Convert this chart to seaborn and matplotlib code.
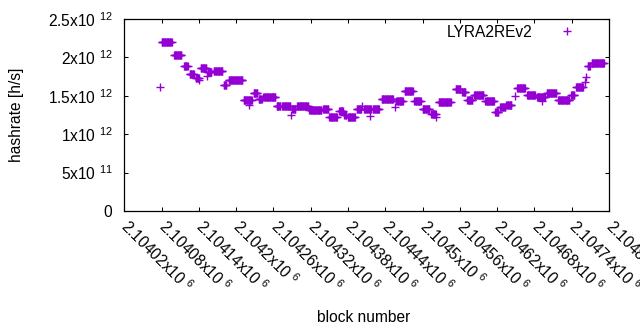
import numpy as np
import pandas as pd
import matplotlib
matplotlib.use("Agg")
import matplotlib.pyplot as plt
import seaborn as sns

# ---- data ----
# runs of consecutive blocks sharing the same estimated hashrate (units: 1e12 h/s)
run_start = [2104077, 2104080, 2104100, 2104116, 2104125, 2104135, 2104140, 2104143, 2104153,
             2104154, 2104164, 2104180, 2104188, 2104212, 2104221, 2104228, 2104236, 2104244,
             2104265, 2104274, 2104289, 2104290, 2104298, 2104318, 2104340, 2104350, 2104366,
             2104374, 2104380, 2104394, 2104402, 2104406, 2104415, 2104420, 2104434, 2104455,
             2104458, 2104471, 2104487, 2104500, 2104514, 2104521, 2104526, 2104553, 2104564,
             2104572, 2104583, 2104601, 2104617, 2104625, 2104635, 2104649, 2104652, 2104668,
             2104684, 2104692, 2104700, 2104718, 2104739, 2104747, 2104761, 2104763, 2104766,
             2104772]
run_end = [2104077, 2104096, 2104112, 2104122, 2104132, 2104140, 2104140, 2104152, 2104153,
           2104160, 2104178, 2104184, 2104210, 2104225, 2104221, 2104234, 2104241, 2104263,
           2104271, 2104287, 2104289, 2104295, 2104316, 2104337, 2104348, 2104362, 2104372,
           2104377, 2104391, 2104401, 2104402, 2104417, 2104415, 2104430, 2104452, 2104455,
           2104468, 2104484, 2104497, 2104511, 2104521, 2104521, 2104545, 2104561, 2104569,
           2104580, 2104598, 2104615, 2104622, 2104633, 2104643, 2104649, 2104665, 2104681,
           2104697, 2104692, 2104715, 2104736, 2104744, 2104758, 2104761, 2104763, 2104769,
           2104792]
run_hashrate_e12 = [1.611, 2.196, 2.027, 1.884, 1.780, 1.736, 1.700, 1.858, 1.758,
                    1.810, 1.823, 1.637, 1.702, 1.441, 1.380, 1.532, 1.462, 1.484,
                    1.371, 1.363, 1.250, 1.332, 1.367, 1.311, 1.324, 1.228, 1.298,
                    1.254, 1.220, 1.324, 1.367, 1.324, 1.241, 1.324, 1.456, 1.350,
                    1.428, 1.558, 1.428, 1.324, 1.263, 1.224, 1.415, 1.588, 1.545,
                    1.449, 1.506, 1.428, 1.285, 1.350, 1.380, 1.497, 1.598, 1.506,
                    1.480, 1.436, 1.532, 1.441, 1.510, 1.614, 1.683, 1.749, 1.888,
                    1.931]
series_name = "LYRA2REv2"

x_ticks = [2104020, 2104080, 2104140, 2104200, 2104260, 2104320, 2104380,
           2104440, 2104500, 2104560, 2104620, 2104680, 2104740, 2104800]
x_tick_labels = ["2.10402x10 $^{6}$", "2.10408x10 $^{6}$", "2.10414x10 $^{6}$",
                 "2.1042x10 $^{6}$", "2.10426x10 $^{6}$", "2.10432x10 $^{6}$",
                 "2.10438x10 $^{6}$", "2.10444x10 $^{6}$", "2.1045x10 $^{6}$",
                 "2.10456x10 $^{6}$", "2.10462x10 $^{6}$", "2.10468x10 $^{6}$",
                 "2.10474x10 $^{6}$", "2.1048x10 $^{6}$"]
y_ticks = [0, 5e11, 1e12, 1.5e12, 2e12, 2.5e12]
y_tick_labels = ["0", "5x10 $^{11}$", "1x10 $^{12}$", "1.5x10 $^{12}$",
                 "2x10 $^{12}$", "2.5x10 $^{12}$"]

# expand runs into one point per block
blocks, rates = [], []
for s, e, v in zip(run_start, run_end, run_hashrate_e12):
    b = np.arange(s, e + 1)
    blocks.extend(b.tolist())
    rates.extend([v * 1e12] * len(b))
df = pd.DataFrame({"block number": blocks, "hashrate": rates})

# ---- style ----
sns.set_theme(style="white")
plt.rcParams["font.family"] = ["Liberation Sans", "DejaVu Sans"]
plt.rcParams["mathtext.fontset"] = "custom"
plt.rcParams["mathtext.rm"] = "Liberation Sans"
plt.rcParams["mathtext.it"] = "Liberation Sans:italic"
plt.rcParams["mathtext.bf"] = "Liberation Sans:bold"
for k in ["text.color", "axes.labelcolor", "xtick.color", "ytick.color", "axes.edgecolor"]:
    plt.rcParams[k] = "black"

FS = 11.2
W, H = 640, 330
L, R, T, B = 124.3, 609.0, 19.0, 211.0

fig = plt.figure(figsize=(W / 100, H / 100), dpi=100)
ax = fig.add_axes([L / W, 1 - B / H, (R - L) / W, (B - T) / H])

color = "#9400d3"
sns.scatterplot(data=df, x="block number", y="hashrate", marker="+", color=color,
                s=37, linewidth=1.0, label=series_name, ax=ax, legend=False)

ax.set_xlim(2104020, 2104800)
ax.set_ylim(0, 2.5e12)
ax.set_xticks(x_ticks)
ax.set_xticklabels(x_tick_labels, rotation=-45, ha="left", va="center",
                   rotation_mode="anchor", fontsize=FS)
ax.set_yticks(y_ticks)
ax.set_yticklabels(y_tick_labels, fontsize=FS)

ax.tick_params(axis="x", direction="in", length=3.2, width=0.75, pad=9.0,
               bottom=True, top=True)
ax.tick_params(axis="y", direction="in", length=3.2, width=0.75, pad=8.5,
               left=True, right=True)
for sp in ax.spines.values():
    sp.set_visible(True)
    sp.set_linewidth(0.9)
    sp.set_color("black")

ax.set_xlabel("block number", fontsize=FS)
ax.xaxis.set_label_coords((364 - L) / (R - L), (B - 317) / (B - T))
ax.xaxis.label.set_verticalalignment("center")
ax.set_ylabel("hashrate [h/s]", fontsize=FS)
ax.yaxis.set_label_coords((16.5 - L) / (R - L), 0.5)
ax.yaxis.label.set_verticalalignment("center")

leg = ax.legend(loc="center right", bbox_to_anchor=(582.5 / W, 1 - 32.3 / H),
                bbox_transform=fig.transFigure, markerfirst=False, frameon=False,
                handlelength=2.0, handletextpad=1.2, borderpad=0, borderaxespad=0,
                fontsize=FS, scatterpoints=1, scatteryoffsets=[0.5])

fig.savefig("out.png", dpi=100, facecolor="white")
